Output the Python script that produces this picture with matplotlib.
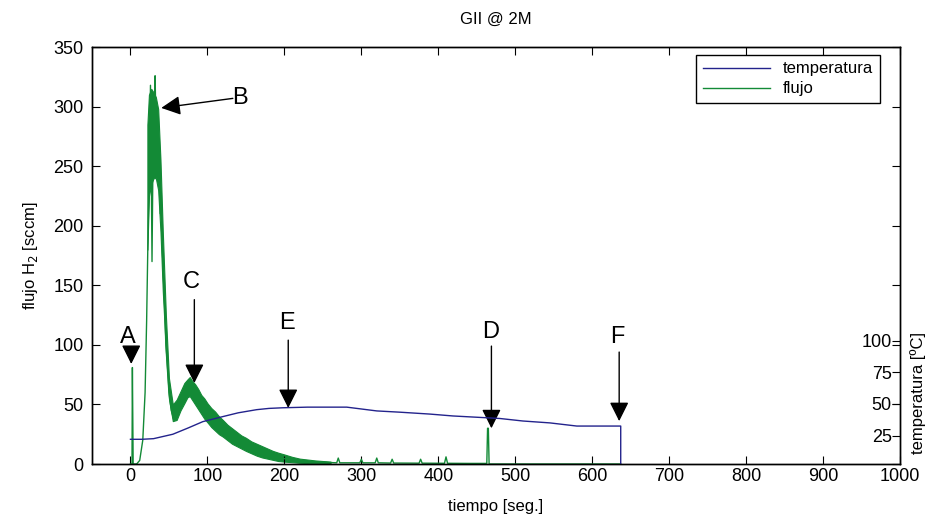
import numpy as np
import matplotlib
matplotlib.use('Agg')
import matplotlib.pyplot as plt

plt.rcParams['font.family'] = ['Liberation Sans', 'DejaVu Sans']

# flujo H2 [sccm]
flujo_t = [0, 2, 2.5, 3.5, 8, 12, 16, 19, 21, 23, 25, 26, 27, 28, 29, 30, 31, 32, 33, 34,
           35, 36, 37, 38, 39, 40, 42, 44, 46, 48, 50, 53, 56, 58, 62, 66, 70, 74, 77,
           80, 85, 90, 100, 110, 120, 130, 140, 150, 160, 170, 180, 190, 200, 210, 220,
           230, 250, 268, 270, 272, 298, 300, 302, 318, 320, 322, 338, 340, 342, 375,
           377, 379, 408, 410, 412, 440, 463, 464, 465, 466, 637]
flujo = [0, 0, 81, 0, 0, 3, 20, 60, 120, 200, 260, 318, 250, 170, 240, 300, 270, 326, 290, 300,
         280, 290, 250, 260, 210, 220, 170, 140, 100, 80, 60, 45, 38, 40, 48, 55, 60, 64, 66,
         62, 55, 50, 40, 33, 28, 23, 19, 15, 12, 10, 8, 6, 4.5, 3.5, 2.5,
         2, 1.5, 1, 5, 1, 1, 4, 1, 1, 5, 1, 0.8, 4, 0.8, 0.7,
         4, 0.7, 0.6, 6, 0.6, 0.5, 0.5, 30, 30, 0, 0]

# banda de ruido del flujo
banda_t = [22, 24, 27, 30, 33, 36, 39, 42, 46, 50, 55, 60, 65, 70, 74, 77, 80, 84, 88,
           92, 96, 100, 105, 110, 115, 120, 126, 132, 138, 144, 150, 157, 164, 171, 178,
           185, 192, 200, 210, 220, 240, 260]
banda_lo = [180, 225, 235, 240, 240, 230, 195, 145, 95, 55, 36, 37, 45, 51, 56, 57, 54, 50, 46,
            42, 38, 35, 31, 28, 25, 23, 20, 17, 15, 13, 11, 9, 7, 5.5, 4.5, 3.5, 2.5, 2,
            1.5, 1, 0.6, 0.4]
banda_hi = [285, 310, 315, 312, 308, 298, 255, 195, 125, 72, 50, 54, 61, 68, 71, 73, 70, 67, 63,
            58, 55, 51, 47, 44, 40, 37, 33, 30, 27, 24, 22, 19, 17, 15, 13, 11, 9.5, 8,
            6, 4.5, 3, 2]

# temperatura [ºC]
temp_t = [0, 15, 30, 55, 75, 94, 120, 140, 164, 180, 198, 230, 281, 320, 350, 389, 419,
          465, 480, 510, 545, 580, 637, 637]
temp = [22, 22, 22.5, 26, 31, 36, 40, 43, 45.5, 46.5, 47, 47.5, 47.5, 44.5, 43.5, 42, 40.5,
        39, 38.5, 36.5, 35, 32.5, 32.5, 0]

# etiquetas: letra, texto (t, v), cola, punta
etiquetas = ['A', 'B', 'C', 'E', 'D', 'F']
pos_texto = [(-4, 107), (142, 307), (79, 153), (204, 118), (468, 111), (632, 107)]
colas = [(1, 96), (133, 307), (83, 138), (205, 104), (469, 99), (635, 94)]
puntas = [(1, 84), (40, 299), (83, 68), (205, 47), (469, 30), (635, 36)]

azul = '#23238c'
verde = '#138a36'

fig = plt.figure(figsize=(9.31, 5.23), dpi=100)
ax = fig.add_axes([0.0988, 0.1128, 0.868, 0.797])

ax.fill_between(banda_t, banda_lo, banda_hi, color=verde, lw=0.8, edgecolor=verde)
l_flujo, = ax.plot(flujo_t, flujo, color=verde, lw=1)

ax2 = ax.twinx()
l_temp, = ax2.plot(temp_t, temp, color=azul, lw=1)

ax.set_xlim(-50, 1000)
ax.set_ylim(0, 350)
ax.set_xticks(np.arange(0, 1001, 100))
ax.set_yticks(np.arange(0, 351, 50))
ax.tick_params(direction='in', length=6, labelsize=13, top=True, right=True)
ax.tick_params(axis='y', pad=6)
ax.tick_params(axis='x', pad=3)

ax2.set_ylim(2.4, 333)
ax2.set_yticks([25, 50, 75, 100])
ax2.tick_params(direction='in', length=6, labelsize=13, pad=-6)
for lab in ax2.get_yticklabels():
    lab.set_ha('right')

for a in (ax, ax2):
    for s in a.spines.values():
        s.set_linewidth(1)

ax.set_title('GII @ 2M', fontsize=12, pad=17)
ax.set_xlabel('tiempo [seg.]', fontsize=12, labelpad=10)
ax.set_ylabel('flujo H$_2$ [sccm]', fontsize=12, labelpad=10)
ax2.set_ylabel('temperatura [ºC]', fontsize=12)
ax2.yaxis.set_label_coords(1.012, 0.17)

for letra, pt, cola, punta in zip(etiquetas, pos_texto, colas, puntas):
    ax.text(pt[0], pt[1], letra, fontsize=17, ha='center', va='center')
    ax.annotate('', xy=punta, xytext=cola,
                arrowprops=dict(arrowstyle='-|>,head_length=0.9,head_width=0.45',
                                color='k', lw=1, mutation_scale=13, shrinkA=0, shrinkB=0))

ax.legend([l_temp, l_flujo], ['temperatura', 'flujo'], loc='upper right',
          bbox_to_anchor=(0.975, 0.982), fancybox=False, edgecolor='k', framealpha=1,
          fontsize=12, handlelength=4, borderaxespad=0, borderpad=0.4, labelspacing=0.3)

fig.savefig('out.png', dpi=100)
